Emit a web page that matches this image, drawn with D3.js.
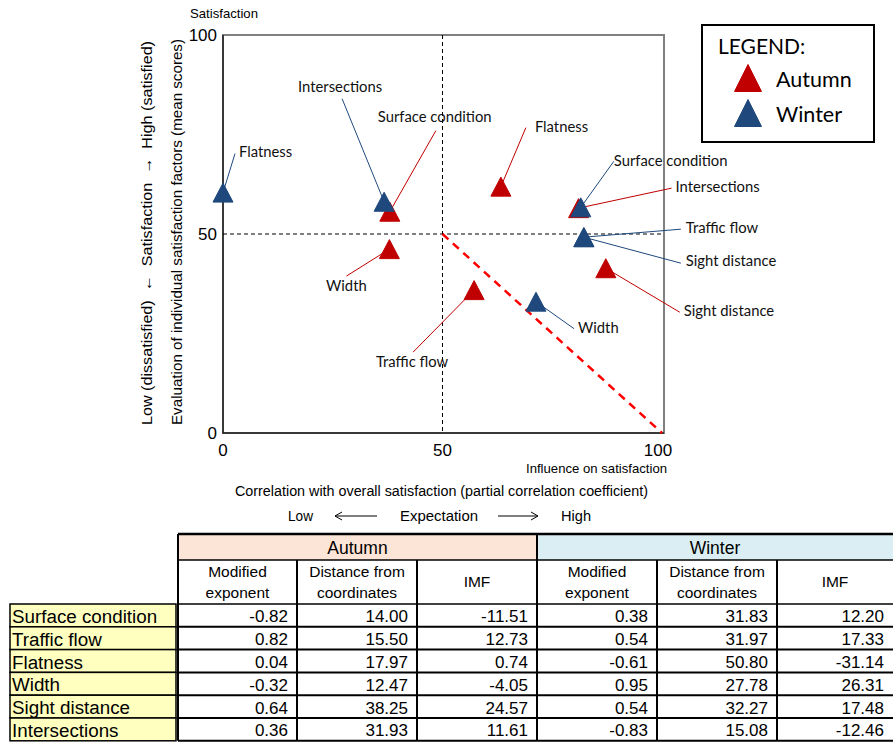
<!DOCTYPE html>
<html>
<head>
<meta charset="utf-8">
<script src="https://cdn.jsdelivr.net/npm/d3@7"></script>
<style>
  body { margin: 0; background: #fff; }
  svg { display: block; }
</style>
</head>
<body>
<div id="vis"></div>
<script>
// factors, in table order
const factors = ["Surface condition", "Traffic flow", "Flatness", "Width", "Sight distance", "Intersections"];

// scatter positions (x = influence, y = satisfaction)
const autumnX = [38.0, 57.2, 63.3, 37.9, 87.2, 81.0];
const autumnY = [55.6, 35.9, 61.9, 46.2, 41.4, 56.5];
const winterX = [81.5, 82.2, 0.0, 71.3, 82.2, 36.7];
const winterY = [56.7, 49.2, 60.4, 33.0, 49.2, 58.1];

// table values
const autumnModExp = [-0.82, 0.82, 0.04, -0.32, 0.64, 0.36];
const autumnDist = [14.00, 15.50, 17.97, 12.47, 38.25, 31.93];
const autumnIMF = [-11.51, 12.73, 0.74, -4.05, 24.57, 11.61];
const winterModExp = [0.38, 0.54, -0.61, 0.95, 0.54, -0.83];
const winterDist = [31.83, 31.97, 50.80, 27.78, 32.27, 15.08];
const winterIMF = [12.20, 17.33, -31.14, 26.31, 17.48, -12.46];

const xTicks = [0, 50, 100];
const yTicks = [0, 50, 100];

// leader line end (lx, ly) and text spot (tx, ty), pixels relative to the marker
const labelLayout = {
  "Autumn|Surface condition": { lx: 46, ly: -81, tx: -12, ty: -95, anchor: "start" },
  "Autumn|Traffic flow": { lx: -61, ly: 62, tx: -62, ty: 72, anchor: "middle" },
  "Autumn|Flatness": { lx: 25, ly: -59, tx: 34, ty: -60, anchor: "start" },
  "Autumn|Width": { lx: -43, ly: 27, tx: -43, ty: 37, anchor: "middle" },
  "Autumn|Sight distance": { lx: 74, ly: 44, tx: 78, ty: 43, anchor: "start" },
  "Autumn|Intersections": { lx: 93, ly: -20, tx: 97, ty: -21, anchor: "start" },
  "Winter|Surface condition": { lx: 33, ly: -46, tx: 33, ty: -47, anchor: "start" },
  "Winter|Traffic flow": { lx: 97, ly: -8, tx: 102, ty: -9, anchor: "start" },
  "Winter|Flatness": { lx: 12, ly: -39, tx: 16, ty: -41, anchor: "start" },
  "Winter|Width": { lx: 38, ly: 27, tx: 42, ty: 26, anchor: "start" },
  "Winter|Sight distance": { lx: 97, ly: 26, tx: 102, ty: 24, anchor: "start" },
  "Winter|Intersections": { lx: -42, ly: -103, tx: -44, ty: -115, anchor: "middle" }
};

const colors = { Autumn: "#c00000", Winter: "#1f497d" };
const narrow = "'Liberation Sans Narrow', 'Arial Narrow', 'Liberation Sans', sans-serif";
const calibri = "Lato, 'Open Sans', sans-serif";
const arial = "'Liberation Sans', Arial, sans-serif";

const W = 893, H = 744;
const svg = d3.select("#vis").append("svg").attr("width", W).attr("height", H);

const x = d3.scaleLinear().domain([0, 100]).range([223, 662]);
const y = d3.scaleLinear().domain([0, 100]).range([433, 35]);

const points = [];
factors.forEach((f, i) => {
  points.push({ series: "Autumn", name: f, x: autumnX[i], y: autumnY[i] });
});
factors.forEach((f, i) => {
  points.push({ series: "Winter", name: f, x: winterX[i], y: winterY[i] });
});

const tri = (w, h) => `M0,${-h / 2}L${w / 2},${h / 2}L${-w / 2},${h / 2}Z`;

// narrow text squeezed to the width it has in the picture
function narrowText(sel, str, len, size) {
  return sel.append("text")
    .attr("font-family", narrow).attr("font-size", size)
    .attr("textLength", len).attr("lengthAdjust", "spacingAndGlyphs")
    .text(str);
}

// plot frame
svg.append("rect")
  .attr("x", x(0)).attr("y", y(100))
  .attr("width", x(100) - x(0) + 2).attr("height", y(0) - y(100))
  .attr("fill", "none").attr("stroke", "#808080").attr("stroke-width", 2);
svg.append("path")
  .attr("d", `M${x(0)},${y(100)}V${y(0)}H${x(100) + 2}`)
  .attr("fill", "none").attr("stroke", "#222").attr("stroke-width", 1.5);

// quadrant lines
svg.append("line")
  .attr("x1", x(50)).attr("x2", x(50)).attr("y1", y(100)).attr("y2", y(0))
  .attr("stroke", "#000").attr("stroke-dasharray", "4,3");
svg.append("line")
  .attr("x1", x(0)).attr("x2", x(100)).attr("y1", y(50)).attr("y2", y(50))
  .attr("stroke", "#000").attr("stroke-dasharray", "4,3");

// red diagonal
svg.append("line")
  .attr("x1", x(50)).attr("y1", y(50)).attr("x2", x(100)).attr("y2", y(0))
  .attr("stroke", "#ff0000").attr("stroke-width", 2.5).attr("stroke-dasharray", "8,6");

// ticks
svg.selectAll(".ytick").data(yTicks).enter().append("text")
  .attr("x", 217).attr("y", d => y(d)).attr("dy", "0.35em")
  .attr("text-anchor", "end").attr("font-family", arial).attr("font-size", 17)
  .text(d => d);
svg.selectAll(".xtick").data(xTicks).enter().append("text")
  .attr("x", d => x(d) - (d === 100 ? 4 : 0)).attr("y", 450).attr("dy", "0.35em")
  .attr("text-anchor", "middle").attr("font-family", arial).attr("font-size", 17)
  .text(d => d);

// axis titles
narrowText(svg, "Satisfaction", 68, 13.5).attr("x", 190).attr("y", 13).attr("dy", "0.35em");
narrowText(svg, "Influence on satisfaction", 141, 13.5).attr("x", 526).attr("y", 468).attr("dy", "0.35em");
narrowText(svg, "Correlation with overall satisfaction (partial correlation coefficient)", 413, 15.5)
  .attr("x", 235).attr("y", 491).attr("dy", "0.35em");

narrowText(svg, "Low", 25, 15.5).attr("x", 288).attr("y", 516).attr("dy", "0.35em");
narrowText(svg, "Expectation", 78, 15.5).attr("x", 400).attr("y", 516).attr("dy", "0.35em");
narrowText(svg, "High", 30, 15.5).attr("x", 561).attr("y", 516).attr("dy", "0.35em");
svg.append("path").attr("d", "M377,516H335M342,512L335,516L342,520")
  .attr("fill", "none").attr("stroke", "#000").attr("stroke-width", 1);
svg.append("path").attr("d", "M498,516H538M531,512L538,516L531,520")
  .attr("fill", "none").attr("stroke", "#000").attr("stroke-width", 1);

narrowText(svg, "Evaluation of individual satisfaction factors (mean scores)", 386, 15.5)
  .attr("transform", "translate(182,425) rotate(-90)");
narrowText(svg, "Low (dissatisfied)  \u2190  Satisfaction  \u2192  High (satisfied)", 384, 15.5)
  .attr("transform", "translate(152,425) rotate(-90)")
  .attr("xml:space", "preserve");

// leader lines under markers
const lines = svg.append("g");
points.forEach(d => {
  const L = labelLayout[d.series + "|" + d.name];
  const px = x(d.x), py = y(d.y);
  lines.append("line")
    .attr("x1", px).attr("y1", py).attr("x2", px + L.lx).attr("y2", py + L.ly)
    .attr("stroke", colors[d.series]).attr("stroke-width", 1);
  lines.append("text")
    .attr("x", px + L.tx).attr("y", py + L.ty).attr("dy", "0.35em")
    .attr("text-anchor", L.anchor)
    .attr("font-family", calibri).attr("font-size", 14.8)
    .attr("fill", "#111")
    .text(d.name);
});

// markers
svg.append("g").selectAll("path").data(points).enter().append("path")
  .attr("d", tri(20, 19))
  .attr("transform", d => `translate(${x(d.x)},${y(d.y)})`)
  .attr("fill", d => colors[d.series])
  .attr("stroke", d => colors[d.series]).attr("stroke-width", 1).attr("stroke-linejoin", "round");

// legend
const lg = svg.append("g");
lg.append("rect").attr("x", 702).attr("y", 25).attr("width", 172).attr("height", 117)
  .attr("fill", "#fff").attr("stroke", "#000").attr("stroke-width", 2);
lg.append("text").attr("x", 718).attr("y", 47).attr("dy", "0.35em")
  .attr("font-family", calibri).attr("font-size", 21).text("LEGEND:");
["Autumn", "Winter"].forEach((s, i) => {
  const cy = 78 + i * 35;
  lg.append("path").attr("d", tri(27, 27)).attr("transform", `translate(748,${cy})`)
    .attr("fill", colors[s]).attr("stroke", colors[s]).attr("stroke-linejoin", "round");
  lg.append("text").attr("x", 776).attr("y", cy + 1).attr("dy", "0.35em")
    .attr("font-family", calibri).attr("font-size", 21.5).text(s);
});

// table
const cols = [178, 297, 417, 537, 657, 777, 893];
const rowTop = 604, rowH = 22.8;
const tbl = svg.append("g").attr("font-family", arial).attr("font-size", 15.5);

tbl.append("rect").attr("x", cols[0]).attr("y", 534).attr("width", cols[3] - cols[0]).attr("height", 26)
  .attr("fill", "#fce4d6");
tbl.append("rect").attr("x", cols[3]).attr("y", 534).attr("width", cols[6] - cols[3] + 2).attr("height", 26)
  .attr("fill", "#daeef3");
tbl.append("text").attr("x", (cols[0] + cols[3]) / 2).attr("y", 548).attr("dy", "0.35em")
  .attr("text-anchor", "middle").attr("font-size", 17.5).text("Autumn");
tbl.append("text").attr("x", (cols[3] + cols[6]) / 2).attr("y", 548).attr("dy", "0.35em")
  .attr("text-anchor", "middle").attr("font-size", 17.5).text("Winter");

const subHeads = [["Modified", "exponent"], ["Distance from", "coordinates"], ["IMF"]];
for (let c = 0; c < 6; c++) {
  const h = subHeads[c % 3];
  const cx = (cols[c] + cols[c + 1]) / 2;
  if (h.length === 2) {
    tbl.append("text").attr("x", cx).attr("y", 572).attr("dy", "0.35em").attr("text-anchor", "middle").text(h[0]);
    tbl.append("text").attr("x", cx).attr("y", 593).attr("dy", "0.35em").attr("text-anchor", "middle").text(h[1]);
  } else {
    tbl.append("text").attr("x", cx).attr("y", 582).attr("dy", "0.35em").attr("text-anchor", "middle").text(h[0]);
  }
}

const colValues = [autumnModExp, autumnDist, autumnIMF, winterModExp, winterDist, winterIMF];
factors.forEach((f, r) => {
  const ry = rowTop + r * rowH;
  tbl.append("rect").attr("x", 10).attr("y", ry).attr("width", 166).attr("height", rowH)
    .attr("fill", "#ffffc0").attr("stroke", "#000").attr("stroke-width", 1.5);
  tbl.append("text").attr("x", 12).attr("y", ry + rowH / 2 + 1).attr("dy", "0.35em")
    .attr("font-size", 18.8).text(f);
  colValues.forEach((vals, c) => {
    tbl.append("text").attr("x", cols[c + 1] - 9).attr("y", ry + rowH / 2 + 1).attr("dy", "0.35em")
      .attr("text-anchor", "end").attr("font-size", 17).text(vals[r].toFixed(2));
  });
});

// table grid
const grid = tbl.append("g").attr("stroke", "#000").attr("fill", "none");
grid.append("path").attr("d", `M${cols[0]},534H${W}`).attr("stroke-width", 2.5);
grid.append("path").attr("d", `M${cols[0]},560H${W}`).attr("stroke-width", 1.5);
for (let r = 0; r <= 6; r++) {
  grid.append("path").attr("d", `M${cols[0]},${rowTop + r * rowH}H${W}`).attr("stroke-width", r === 0 ? 1.5 : 2);
}
cols.slice(0, 6).forEach((cx, i) => {
  const top = (i === 0 || i === 3) ? 534 : 560;
  grid.append("path").attr("d", `M${cx},${top}V${rowTop + 6 * rowH}`).attr("stroke-width", 2);
});
</script>
</body>
</html>
